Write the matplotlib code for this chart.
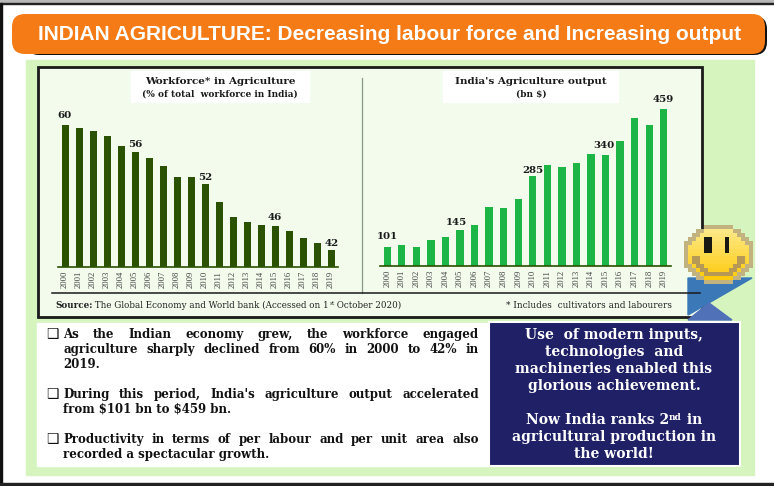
import matplotlib
matplotlib.use("Agg")
import matplotlib.pyplot as plt
import numpy as np
from matplotlib.patches import FancyBboxPatch, Polygon, Rectangle

W, H = 774, 486
SERIF = "Liberation Serif"
WIDE = "DejaVu Serif"
SANS = "Liberation Sans"

years = [str(y) for y in range(2000, 2020)]
workforce = [60.0, 59.6, 59.1, 58.5, 57.0, 56.2, 55.3, 54.1, 52.6, 52.5,
             51.5, 48.9, 46.8, 46.1, 45.6, 45.4, 44.8, 43.7, 43.0, 42.0]
output = [101, 105, 100, 119, 126, 145, 158, 204, 202, 225,
          286, 313, 308, 319, 343, 340, 376, 435, 418, 459]
workforce_labels = {"2000": "60", "2005": "56", "2010": "52", "2015": "46", "2019": "42"}
output_labels = {"2000": "101", "2005": "145", "2010": "285", "2015": "340", "2019": "459"}

title = "INDIAN AGRICULTURE: Decreasing labour force and Increasing output"
bullets = [
    ["As the Indian  economy grew,  the workforce engaged",
     "agriculture sharply declined from 60% in 2000 to 42% in",
     "2019."],
    ["During this period, India's agriculture output accelerated",
     r"from \$101 bn to \$459 bn."],
    ["Productivity in terms of per labour and per unit area also",
     "recorded a spectacular growth."],
]


def box(ax, x0, y0, x1, y1, **kw):
    ax.add_patch(Rectangle((x0, y0), x1 - x0, y1 - y0, **kw))


def run_text(fig, ax, x, y, parts, color="black", center=False, family=WIDE):
    # parts: (text, size, weight, raise in px), placed one after the other
    r = fig.canvas.get_renderer()
    items = []
    for s, size, weight, rise in parts:
        t = ax.text(x, y - rise, s, fontsize=size, fontweight=weight, color=color,
                    family=family, va="baseline", ha="left")
        items.append((t, t.get_window_extent(r).width))
    total = sum(w for _, w in items)
    pos = x - total / 2 if center else x
    for t, w in items:
        t.set_x(pos)
        pos += w


def justified(fig, ax, x0, x1, y, line, **kw):
    r = fig.canvas.get_renderer()
    words = line.split()
    items = [ax.text(x0, y, w, va="center", ha="left", **kw) for w in words]
    widths = [t.get_window_extent(r).width for t in items]
    gap = (x1 - x0 - sum(widths)) / (len(words) - 1)
    pos = x0
    for t, w in zip(items, widths):
        t.set_x(pos)
        pos += w + gap


def bar_chart(fig, x0, x1, y_base, y_top, ymin, ymax, values, labels, offsets, color):
    ax = fig.add_axes([x0 / W, 1 - y_base / H, (x1 - x0) / W, (y_base - y_top) / H])
    ax.patch.set_alpha(0)
    pos = np.arange(len(years))
    ax.bar(pos, values, width=0.5, color=color)
    ax.set_xlim(-0.5, 19.5)
    ax.set_ylim(ymin, ymax)
    ax.set_yticks([])
    ax.set_xticks(pos)
    ax.set_xticklabels(years, rotation=90, fontsize=6.2, family=SERIF, color="#444444")
    ax.tick_params(axis="x", length=0, pad=2.5)
    for s in ["top", "left", "right"]:
        ax.spines[s].set_visible(False)
    ax.spines["bottom"].set_color("#2a5200")
    ax.spines["bottom"].set_linewidth(1.2)
    for yr, txt in labels.items():
        i = years.index(yr)
        dx, dy = offsets[yr]
        ax.annotate(txt, (i, values[i]), xytext=(dx * 0.72, dy * 0.72),
                    textcoords="offset points", ha="center", va="center",
                    fontsize=7.4, fontweight="bold", family=WIDE, color="#1a1a1a")
    return ax


def smiley(ax):
    # low resolution face, the reference is a pixelated clip art
    nx, ny = 17, 15
    img = np.zeros((ny, nx, 4))
    top = np.array([0.99, 0.93, 0.58])
    bottom = np.array([1.0, 0.78, 0.0])
    for j in range(ny):
        for i in range(nx):
            u = (i + 0.5) / nx * 2 - 1
            v = (j + 0.5) / ny * 2 - 1
            d = np.hypot(u, v)
            if d > 1.03:
                continue
            f = (v + 1) / 2
            rgb = top * (1 - f) + bottom * f
            if d > 0.88:
                rgb = np.array([0.76, 0.70, 0.50])
            if 0.60 < d < 0.78 and v > 0.12:
                rgb = np.array([0.72, 0.60, 0.34])
            if abs(abs(u + 0.02) - 0.28) < 0.07 and -0.62 < v < -0.12:
                rgb = np.array([0.1, 0.1, 0.08])
            img[j, i, :3] = rgb
            img[j, i, 3] = 1
    ax.imshow(img, extent=(684, 753, 284, 225), interpolation="nearest", aspect="auto", zorder=6)


fig = plt.figure(figsize=(W / 100, H / 100), dpi=100)
bg = fig.add_axes([0, 0, 1, 1])
bg.axis("off")

# window frame
box(bg, 0, 0, W, 3, color="#b8b8b8")
box(bg, 0, 3, W, 4.5, color="#222222")
box(bg, 0, 3, 2, H, color="#111111")
box(bg, 0, 483, W, H, color="#222222")

# header
bg.add_patch(FancyBboxPatch((26, 16), 741, 39, boxstyle="round,pad=0,rounding_size=13",
                            fc="#111111", ec="none"))
bg.add_patch(FancyBboxPatch((12, 14), 753, 40, boxstyle="round,pad=0,rounding_size=13",
                            fc="#F47B16", ec="none"))
bg.text(389.5, 34, title, color="white", fontsize=15, fontweight="bold", family=SANS,
        ha="center", va="center")

# panels
box(bg, 26, 60, 754, 475, color="#D5F4BE")
box(bg, 38, 67, 702, 317, fc="#F2FBEC", ec="#1a1a1a", lw=2)
box(bg, 37, 323, 490, 466, color="white")
box(bg, 131, 71, 309, 102, color="white")
box(bg, 443, 71, 618, 102, color="white")
bg.plot([362, 362], [78, 293], color="#8a9a86", lw=0.9)
bg.plot([52, 700], [293, 293], color="#1a1a1a", lw=1.1)

# chart titles
for cx, line1, line2 in [(220, "Workforce* in Agriculture", "(% of total  workforce in India)"),
                         (531, "India's Agriculture output", r"(bn \$)")]:
    bg.text(cx, 81.5, line1, fontsize=7.5, fontweight="bold", family=WIDE, ha="center", va="center", color="#1a1a1a")
    bg.text(cx, 94, line2, fontsize=6.5, fontweight="bold", family=WIDE, ha="center", va="center", color="#1a1a1a")

# footers
run_text(fig, bg, 55, 308, [("Source:", 6.3, "bold", 0),
                            (" The Global Economy and World bank (Accessed on 1", 6.3, "normal", 0),
                            ("st", 4.2, "normal", 3),
                            (" October 2020)", 6.3, "normal", 0)], color="#222222")
bg.text(672, 308, "* Includes  cultivators and labourers", fontsize=6.4, family=WIDE,
        ha="right", va="baseline", color="#222222")

# bullets
line_y = [[334, 349, 364], [394, 409], [439, 454]]
for lines, ys in zip(bullets, line_y):
    bg.text(52, ys[0], "\u2751", fontsize=10, family="DejaVu Sans", ha="center", va="center", color="#111111")
    for k, (line, y) in enumerate(zip(lines, ys)):
        if k < len(lines) - 1:
            justified(fig, bg, 63, 479, y, line, fontsize=8.5, fontweight="bold", family=WIDE, color="#111111")
        else:
            bg.text(63, y, line, fontsize=8.5, fontweight="bold", family=WIDE, va="center", color="#111111")

# navy call out
box(bg, 489, 322, 740, 466, fc="#1F2066", ec="white", lw=1.5)
bg.add_patch(Polygon([(688, 278), (752, 278), (688, 315)], color="#3A78B8"))
bg.add_patch(Polygon([(688, 320), (709, 303), (732, 320)], color="#5070B8"))
navy_lines = [("Use  of modern inputs,", 335), ("technologies  and", 352),
              ("machineries enabled this", 369), ("glorious achievement.", 386),
              ("agricultural production in", 437), ("the world!", 454)]
for s, y in navy_lines:
    bg.text(614, y, s, color="white", fontsize=10, fontweight="bold", family=WIDE, ha="center", va="center")
run_text(fig, bg, 614, 424, [("Now India ranks 2", 10, "bold", 0), ("nd", 6.5, "bold", 4), (" in", 10, "bold", 0)],
         color="white", center=True)

smiley(bg)
bg.set_xlim(0, W)
bg.set_ylim(H, 0)

bar_chart(fig, 58, 338, 267.3, 110, 39.5, 39.5 + 157.3 / 6.93, workforce, workforce_labels,
          {"2000": (0, 10), "2005": (0, 7), "2010": (0, 7), "2015": (0, 8.7), "2019": (1, 6.7)}, "#2B5200")
bar_chart(fig, 380, 671, 266.3, 100, 50, 50 + 166.3 / 0.3845, output, output_labels,
          {"2000": (0, 9.7), "2005": (-4, 7), "2010": (0, 5), "2015": (-2, 9), "2019": (0, 10)}, "#1DB546")

fig.savefig("out.png", dpi=100)
